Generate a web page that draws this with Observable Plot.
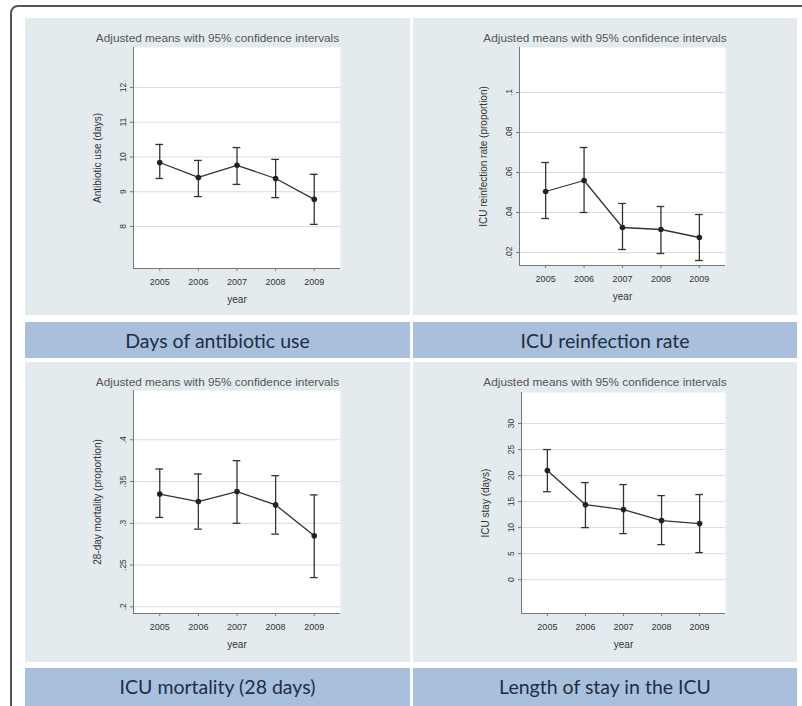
<!DOCTYPE html>
<html>
<head>
<meta charset="utf-8">
<script src="https://cdn.jsdelivr.net/npm/d3@7"></script>
<script src="https://cdn.jsdelivr.net/npm/@observablehq/plot@0.6"></script>
<style>
  html, body { margin: 0; padding: 0; background: #ffffff; }
  body { width: 802px; height: 706px; position: relative; overflow: hidden; font-family: "Liberation Sans", Arial, sans-serif; }
  .frame { position: absolute; left: 10px; top: 5px; width: 820px; height: 760px; border: 2px solid #555; border-radius: 8px; box-sizing: border-box; }
  .panel { position: absolute; background: #e4ebee; }
  .banner { position: absolute; background: #a9c0dc; color: #1f2d44; font-family: Lato, "Open Sans", sans-serif; font-size: 19.5px; text-align: center; }
  .ptitle { position: absolute; text-align: center; font-size: 11.8px; color: #555; white-space: nowrap; }
  .plot { position: absolute; }
</style>
</head>
<body>
<div class="frame"></div>
<div id="root"></div>
<script>
// ---- data ----
const years = [2005, 2006, 2007, 2008, 2009];
const chartTitle = "Adjusted means with 95% confidence intervals";
const captions = ["Days of antibiotic use", "ICU reinfection rate", "ICU mortality (28 days)", "Length of stay in the ICU"];
const yLabels = ["Antibiotic use (days)", "ICU reinfection rate (proportion)", "28-day mortality (proportion)", "ICU stay (days)"];

const antibioticMean = [9.84, 9.41, 9.76, 9.38, 8.78];
const antibioticLow  = [9.38, 8.86, 9.21, 8.83, 8.06];
const antibioticHigh = [10.36, 9.90, 10.27, 9.93, 9.50];
const antibioticTicks = [8, 9, 10, 11, 12];

const reinfMean = [0.0505, 0.056, 0.0325, 0.0315, 0.0275];
const reinfLow  = [0.037, 0.040, 0.0215, 0.0195, 0.016];
const reinfHigh = [0.065, 0.0725, 0.0445, 0.043, 0.039];
const reinfTicks = [0.02, 0.04, 0.06, 0.08, 0.1];

const mortMean = [0.335, 0.326, 0.338, 0.322, 0.285];
const mortLow  = [0.307, 0.293, 0.300, 0.287, 0.235];
const mortHigh = [0.365, 0.359, 0.375, 0.357, 0.334];
const mortTicks = [0.2, 0.25, 0.3, 0.35, 0.4];

const stayMean = [20.96, 14.4, 13.46, 11.35, 10.77];
const stayLow  = [16.9, 10.0, 8.85, 6.73, 5.2];
const stayHigh = [25.0, 18.65, 18.27, 16.15, 16.35];
const stayTicks = [0, 5, 10, 15, 20, 25, 30];

// ---- layout ----
const root = document.getElementById("root");
function div(cls, style, text) {
  const d = document.createElement("div");
  d.className = cls;
  Object.assign(d.style, style);
  if (text) d.textContent = text;
  root.appendChild(d);
  return d;
}

const panels = [
  {left: 25, top: 18, width: 385, height: 297, mL: 108, mR: 70, mT: 29, mB: 47,
   mean: antibioticMean, low: antibioticLow, high: antibioticHigh, ticks: antibioticTicks,
   yDomain: [6.79, 13.15], fmt: d => String(d), banner: {top: 322, height: 36}},
  {left: 413, top: 18, width: 384, height: 297, mL: 106, mR: 72, mT: 29, mB: 50,
   mean: reinfMean, low: reinfLow, high: reinfHigh, ticks: reinfTicks,
   yDomain: [0.0135, 0.1225], fmt: d => String(+d.toFixed(2)).replace(/^0/, ""), banner: {top: 322, height: 36}},
  {left: 25, top: 362, width: 385, height: 300, mL: 108, mR: 70, mT: 28, mB: 49,
   mean: mortMean, low: mortLow, high: mortHigh, ticks: mortTicks,
   yDomain: [0.192, 0.459], fmt: d => String(+d.toFixed(2)).replace(/^0/, ""), banner: {top: 668, height: 40}},
  {left: 413, top: 362, width: 384, height: 300, mL: 108, mR: 72, mT: 30, mB: 49,
   mean: stayMean, low: stayLow, high: stayHigh, ticks: stayTicks,
   yDomain: [-6.5, 35.96], fmt: d => String(d), banner: {top: 668, height: 40}}
];

const capHalf = 0.1; // half-width of the error-bar caps, in years

panels.forEach((p, i) => {
  div("panel", {left: p.left + "px", top: p.top + "px", width: p.width + "px", height: p.height + "px"});
  div("banner", {left: p.left + "px", top: p.banner.top + "px", width: p.width + "px", height: p.banner.height + "px", lineHeight: "37px"}, captions[i]);
  div("ptitle", {left: p.left + "px", top: (p.top + 13) + "px", width: p.width + "px"}, chartTitle);

  const rows = years.map((y, k) => ({year: y, mean: p.mean[k], low: p.low[k], high: p.high[k]}));
  const x0 = 2004.32, x1 = 2009.68;
  const svg = Plot.plot({
    width: p.width,
    height: p.height,
    marginLeft: p.mL, marginRight: p.mR, marginTop: p.mT, marginBottom: p.mB,
    style: {background: "transparent", fontFamily: "Liberation Sans, Arial, sans-serif", color: "#333"},
    x: {type: "linear", domain: [x0, x1]},
    y: {type: "linear", domain: p.yDomain},
    marks: [
      Plot.frame({fill: "white", stroke: null}),
      Plot.gridY(p.ticks, {stroke: "#d8dde0", strokeOpacity: 1}),
      Plot.ruleX([x0], {stroke: "#777", strokeWidth: 1}),
      Plot.ruleY([p.yDomain[0]], {stroke: "#777", strokeWidth: 1}),
      Plot.axisY(p.ticks, {tickFormat: p.fmt, tickRotate: -90, tickSize: 3, tickPadding: 5, fontSize: 8.5, stroke: "#777", label: null}),
      Plot.axisX(years, {tickFormat: d => String(d), tickSize: 3, tickPadding: 7, fontSize: 9, stroke: "#777", label: null}),
      Plot.text([yLabels[i]], {frameAnchor: "left", textAnchor: "middle", dx: -36, rotate: -90, fontSize: 10, fill: "#333"}),
      Plot.text(["year"], {frameAnchor: "bottom", dy: 34, fontSize: 10, fill: "#333"}),
      Plot.ruleX(rows, {x: "year", y1: "low", y2: "high", stroke: "#333", strokeWidth: 1.3}),
      Plot.ruleY(rows, {y: "low", x1: d => d.year - capHalf, x2: d => d.year + capHalf, stroke: "#333", strokeWidth: 1.3}),
      Plot.ruleY(rows, {y: "high", x1: d => d.year - capHalf, x2: d => d.year + capHalf, stroke: "#333", strokeWidth: 1.3}),
      Plot.line(rows, {x: "year", y: "mean", stroke: "#333", strokeWidth: 1.3}),
      Plot.dot(rows, {x: "year", y: "mean", r: 2.8, fill: "#222", stroke: null})
    ]
  });
  svg.classList.add("plot");
  svg.style.left = p.left + "px";
  svg.style.top = p.top + "px";
  root.appendChild(svg);
});
</script>
</body>
</html>
